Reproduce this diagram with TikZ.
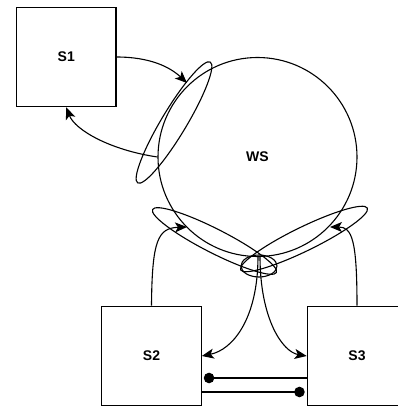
\documentclass[tikz,border=0pt]{standalone}
\usepackage{fontspec}
\setmainfont{Liberation Sans}
\usetikzlibrary{arrows.meta,calc}
\begin{document}
\begin{tikzpicture}[x=1pt,y=1pt,line width=1.1pt,
  boxnode/.style={draw,rectangle,minimum width=99.5pt,minimum height=99.5pt,inner sep=0pt,font=\fontsize{14}{16}\selectfont\bfseries},
  ws/.style={draw,circle,minimum size=199pt,inner sep=0pt,font=\fontsize{14}{16}\selectfont\bfseries},
  arr/.style={-{Stealth[length=12pt,width=10pt,inset=3pt]}}
]
\clip (0,0) rectangle (398,408);
\useasboundingbox (0,0) rectangle (398,408);
\node[boxnode] (S1) at (66.25,351) {S1};
\node[boxnode] (S2) at (151.5,52) {S2};
\node[boxnode] (S3) at (357,52) {S3};
\node[ws] (WS) at (257.5,251) {WS};
% ellipses
\draw[rotate around={59:(174,285.5)}] (174,285.5) ellipse (70.5 and 12.5);
\draw[rotate around={-27:(214.5,167)}] (214.5,167) ellipse (69.5 and 12);
\draw[rotate around={26:(304,169)}] (304,169) ellipse (70.5 and 12);
\draw (259,142) ellipse (18 and 11);
% attachment points
\coordinate (p1) at (187,325);
\coordinate (p2) at (187,181);
\coordinate (p3) at (330,181);
\coordinate (q1) at (258,152);
\coordinate (q2) at (260,152);
% connectors
\draw[arr] (S1.east) .. controls (150,351) and (170,341) .. (p1);
\draw[arr] (WS.west) .. controls (110,258) and (75,278) .. (S1.south);
\draw[arr] (S2.north) .. controls (152,168) and (158,180) .. (p2);
\draw[arr] (S3.north) .. controls (357,168) and (352,181) .. (p3);
\draw[arr] (q1) .. controls (258,88) and (232,58) .. (S2.east);
\draw[arr] (q2) .. controls (260,88) and (283,56) .. (S3.west);
\draw[{Circle[length=10.5pt]}-] ($(S2.east)+(2,-22)$) -- ($(S3.west)+(0,-22)$);
\draw[-{Circle[length=10.5pt]}] ($(S2.east)+(0,-36)$) -- ($(S3.west)+(-2,-36)$);
\end{tikzpicture}
\end{document}
